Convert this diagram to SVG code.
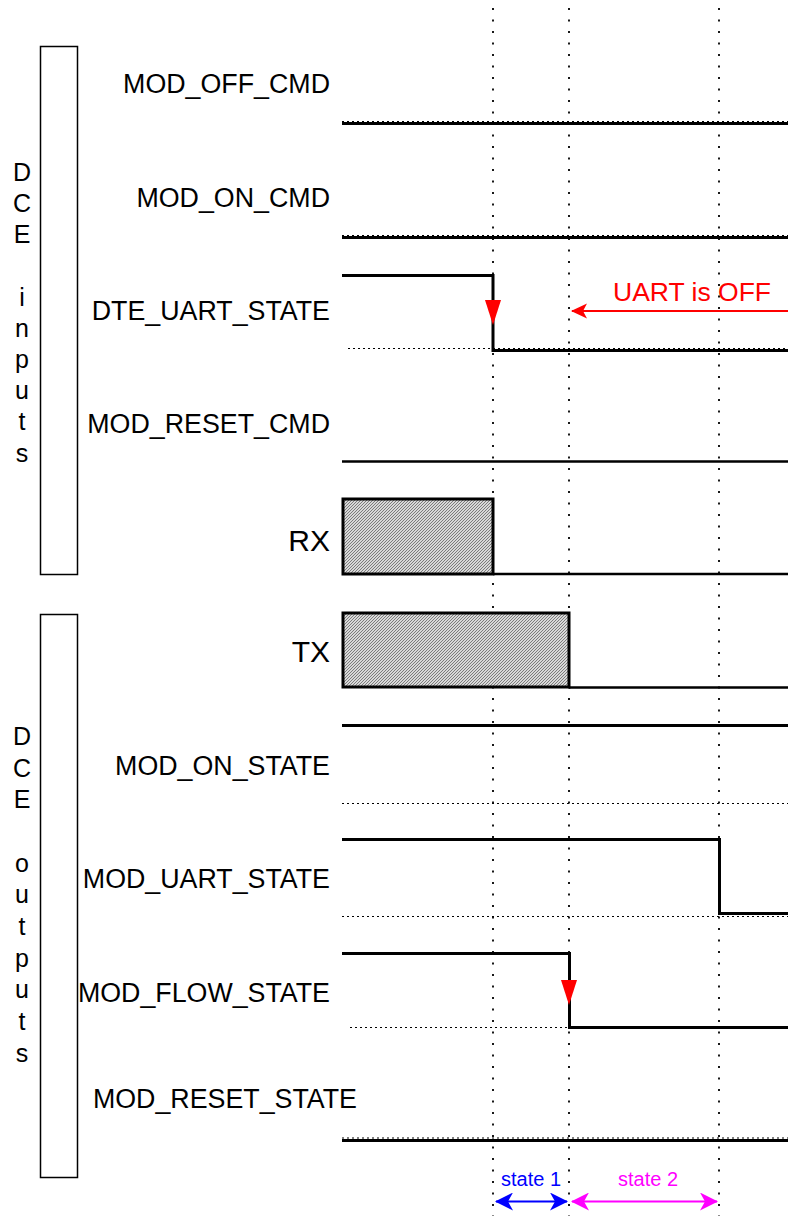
<svg xmlns="http://www.w3.org/2000/svg" width="788" height="1216" viewBox="0 0 788 1216">
<style>
.lbl{font-family:"Liberation Sans",Arial,Helvetica,sans-serif;font-size:26.8px;fill:#000;text-anchor:end}
.big{font-family:"Liberation Sans",Arial,Helvetica,sans-serif;font-size:30px;fill:#000;text-anchor:end}
.vert{font-family:"Liberation Sans",Arial,Helvetica,sans-serif;font-size:25px;fill:#000;text-anchor:middle}
.sig{fill:none;stroke:#000;stroke-width:3;stroke-linejoin:miter}
.thin{fill:none;stroke:#000;stroke-width:2.6}
.ref{fill:none;stroke:#000;stroke-width:1;stroke-dasharray:2 3}
.grid{fill:none;stroke:#000;stroke-width:1.8;stroke-dasharray:2 9.5}
.box{fill:#fff;stroke:#000;stroke-width:1.5}
.hatch{fill:url(#hatch);stroke:#000;stroke-width:3}
</style>
<defs>
<pattern id="hatch" patternUnits="userSpaceOnUse" width="3" height="3">
<rect width="3" height="3" fill="#d8d8d8"/>
<path d="M-1,1 L1,-1 M0,3 L3,0 M2,4 L4,2" stroke="#707070" stroke-width="0.9"/>
</pattern>
<marker id="arrRed" viewBox="0 0 16 16" refX="15" refY="8" markerWidth="16" markerHeight="16" markerUnits="userSpaceOnUse" orient="auto-start-reverse">
<path d="M0,0.5 L16,8 L0,15.5 L4,8 z" fill="#ff0000"/>
</marker>
<marker id="arrBlue" viewBox="0 0 18 18" refX="17" refY="9" markerWidth="18" markerHeight="18" markerUnits="userSpaceOnUse" orient="auto-start-reverse">
<path d="M0,0 L18,9 L0,18 L5,9 z" fill="#0000ff"/>
</marker>
<marker id="arrMag" viewBox="0 0 18 18" refX="17" refY="9" markerWidth="18" markerHeight="18" markerUnits="userSpaceOnUse" orient="auto-start-reverse">
<path d="M0,0 L18,9 L0,18 L5,9 z" fill="#ff00ff"/>
</marker>
</defs>
<rect width="788" height="1216" fill="#fff"/>

<g id="time-markers">
<line class="grid" x1="493" y1="8" x2="493" y2="1216"/>
<line class="grid" x1="569" y1="8" x2="569" y2="1216"/>
<line class="grid" x1="719" y1="8" x2="719" y2="1216"/>
</g>

<g id="dce-inputs">
<rect class="box" x="40.5" y="46.5" width="37" height="528"/>
<text class="vert" x="22" y="181">D</text>
<text class="vert" x="22" y="212">C</text>
<text class="vert" x="22" y="243">E</text>
<text class="vert" x="22" y="306">i</text>
<text class="vert" x="22" y="337">n</text>
<text class="vert" x="22" y="368">p</text>
<text class="vert" x="22" y="399">u</text>
<text class="vert" x="22" y="430">t</text>
<text class="vert" x="22" y="462">s</text>
</g>

<g id="dce-outputs">
<rect class="box" x="40.5" y="614.5" width="37" height="563"/>
<text class="vert" x="22" y="745">D</text>
<text class="vert" x="22" y="777">C</text>
<text class="vert" x="22" y="808">E</text>
<text class="vert" x="22" y="872">o</text>
<text class="vert" x="22" y="903">u</text>
<text class="vert" x="22" y="935">t</text>
<text class="vert" x="22" y="967">p</text>
<text class="vert" x="22" y="998">u</text>
<text class="vert" x="22" y="1030">t</text>
<text class="vert" x="22" y="1062">s</text>
</g>

<g id="mod-off-cmd">
<text class="lbl" x="330" y="93">MOD_OFF_CMD</text>
<line class="ref" x1="342" y1="121.5" x2="788" y2="121.5"/>
<line class="sig" x1="342" y1="123.5" x2="788" y2="123.5"/>
</g>

<g id="mod-on-cmd">
<text class="lbl" x="330" y="207">MOD_ON_CMD</text>
<line class="ref" x1="342" y1="235.5" x2="788" y2="235.5"/>
<line class="sig" x1="342" y1="237.5" x2="788" y2="237.5"/>
</g>

<g id="dte-uart-state">
<text class="lbl" x="330" y="320">DTE_UART_STATE</text>
<line class="ref" x1="348" y1="348.5" x2="788" y2="348.5"/>
<polyline class="sig" points="342,275.5 493,275.5 493,350.5 788,350.5"/>
<polygon points="485,300 501,300 493,325" fill="#ff0000"/>
</g>

<g id="mod-reset-cmd">
<text class="lbl" x="330" y="433">MOD_RESET_CMD</text>
<line class="thin" x1="342" y1="461.5" x2="788" y2="461.5"/>
</g>

<g id="rx">
<text class="big" x="330" y="551">RX</text>
<rect class="hatch" x="343" y="499" width="150" height="75"/>
<line class="thin" x1="493" y1="574" x2="788" y2="574"/>
</g>

<g id="tx">
<text class="big" x="330" y="662">TX</text>
<rect class="hatch" x="343" y="613" width="226" height="74"/>
<line class="thin" x1="569" y1="687.5" x2="788" y2="687.5"/>
</g>

<g id="mod-on-state">
<text class="lbl" x="330" y="775">MOD_ON_STATE</text>
<line class="sig" x1="342" y1="725.5" x2="788" y2="725.5"/>
<line class="ref" x1="342" y1="803.5" x2="788" y2="803.5"/>
</g>

<g id="mod-uart-state">
<text class="lbl" x="330" y="888">MOD_UART_STATE</text>
<line class="ref" x1="342" y1="916.5" x2="788" y2="916.5"/>
<polyline class="sig" points="342,839.5 719.5,839.5 719.5,913.5 788,913.5"/>
</g>

<g id="mod-flow-state">
<text class="lbl" x="330" y="1002">MOD_FLOW_STATE</text>
<line class="ref" x1="350" y1="1027.5" x2="569" y2="1027.5"/>
<polyline class="sig" points="342,953.5 569.5,953.5 569.5,1027.5 788,1027.5"/>
<polygon points="561,980 577,980 569,1005" fill="#ff0000"/>
</g>

<g id="mod-reset-state">
<text class="lbl" x="357" y="1108">MOD_RESET_STATE</text>
<line class="ref" x1="342" y1="1138" x2="788" y2="1138"/>
<line class="sig" x1="342" y1="1140.5" x2="788" y2="1140.5"/>
</g>

<g id="uart-off-note">
<text x="613" y="301" font-family="'Liberation Sans',Arial,Helvetica,sans-serif" font-size="26.5" fill="#ff0000">UART is OFF</text>
</g>

<g id="state-labels">
<text x="531" y="1186" font-family="'Liberation Sans',Arial,Helvetica,sans-serif" font-size="20" fill="#0000ff" text-anchor="middle">state 1</text>
<text x="648" y="1186" font-family="'Liberation Sans',Arial,Helvetica,sans-serif" font-size="20" fill="#ff00ff" text-anchor="middle">state 2</text>
</g>

<g id="connectors">
<line x1="788" y1="311" x2="572" y2="311" stroke="#ff0000" stroke-width="2" marker-end="url(#arrRed)"/>
<line x1="496" y1="1201.5" x2="567" y2="1201.5" stroke="#0000ff" stroke-width="2" marker-start="url(#arrBlue)" marker-end="url(#arrBlue)"/>
<line x1="572" y1="1201.5" x2="717" y2="1201.5" stroke="#ff00ff" stroke-width="2" marker-start="url(#arrMag)" marker-end="url(#arrMag)"/>
</g>
</svg>
